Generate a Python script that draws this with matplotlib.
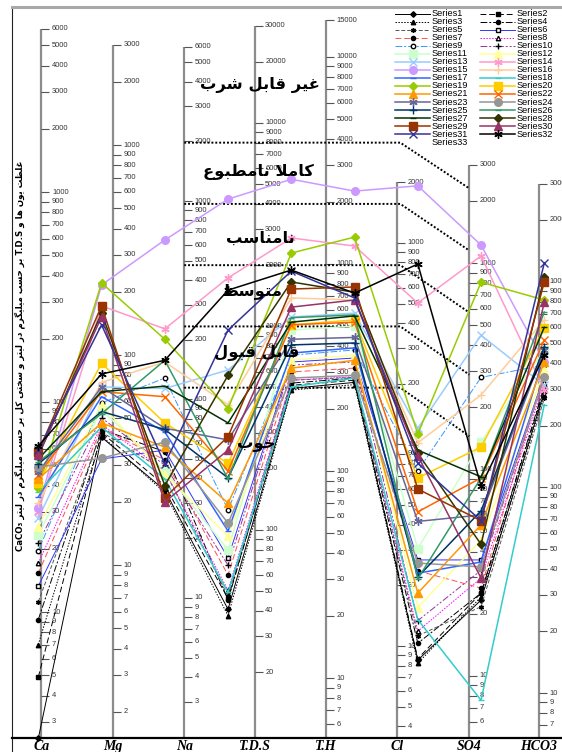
import numpy as np
import matplotlib
matplotlib.use("Agg")
import matplotlib.pyplot as plt
from matplotlib.lines import Line2D

W, H = 562, 752

# ---- data: one value per plotted point, read against the Ca scale ----
points = ["Ca", "Mg", "Na", "K", "T.D.S", "T.H", "Cl", "SO4", "HCO3"]

series1 = [2.5, 68, 38, 10.3, 116, 124, 5.9, 11.4, 112]
series2 = [4.9, 71.5, 40, 11.6, 120, 127, 6.0, 12.3, 116]
series3 = [7.0, 69, 37, 9.6, 114, 121, 5.7, 11.8, 108]
series4 = [9.2, 74, 58, 11.4, 123, 130, 7.1, 12.3, 119]
series5 = [11.2, 72, 47, 11.9, 127, 131, 7.7, 10.6, 104]
series6 = [13.3, 53.5, 59, 18.1, 155, 162, 17.7, 17.7, 134]
series7 = [15.3, 75, 53, 15, 139, 145, 15.7, 13, 139]
series8 = [17.1, 78, 47, 12.7, 127, 132, 8.1, 14.5, 124]
series9 = [19.6, 99, 130, 30.6, 167, 177, 47, 131, 150]
series10 = [21.3, 84, 50, 16.7, 150, 155, 9.1, 15.8, 130]
series11 = [23.3, 92, 47, 19.7, 220, 230, 20, 64.5, 177]
series12 = [25.4, 97, 45, 23, 158, 167, 10.5, 22, 142]
series13 = [28, 118, 116, 142, 254, 265, 75, 208, 120]
series14 = [30, 287, 223, 390, 604, 553, 296, 496, 114]
series15 = [31.3, 361, 591, 925, 1150, 1010, 1070, 559, 155]
series16 = [33, 124, 155, 97, 313, 306, 64, 108, 246]
series17 = [35.3, 106, 72, 24.3, 171, 181, 15.3, 17.3, 167]
series18 = [37.3, 76, 43, 12.4, 118, 130, 9.2, 3.8, 97]
series19 = [39, 369, 199, 93, 512, 610, 70.5, 372, 306]
series20 = [41, 153, 79.5, 51, 233, 246, 43.5, 61, 225]
series21 = [43, 79.5, 61, 33, 145, 158, 12.3, 26, 155]
series22 = [45, 112, 106, 47, 233, 240, 30, 43.5, 197]
series23 = [46.4, 118, 75, 66, 199, 203, 27, 29, 177]
series24 = [49, 54, 64.5, 26.5, 130, 134, 17.1, 16.4, 132]
series25 = [50.7, 90, 74, 43.5, 187, 191, 14.7, 30.3, 183]
series26 = [51.8, 88, 158, 43, 252, 260, 14.4, 43.5, 268]
series27 = [53.5, 112, 119, 79.5, 240, 257, 59, 44, 227]
series28 = [55.3, 265, 40, 134, 373, 333, 57, 21, 394]
series29 = [57.8, 287, 35, 68.5, 345, 353, 38.5, 27.2, 373]
series30 = [56, 254, 33.4, 59, 283, 306, 55.5, 14.5, 299]
series31 = [59, 233, 50.7, 220, 420, 313, 51, 27.2, 459]
series32 = [61.7, 136, 158, 341, 425, 330, 454, 39.8, 167]
series33 = []

all_series = [series1, series2, series3, series4, series5, series6, series7, series8,
              series9, series10, series11, series12, series13, series14, series15, series16,
              series17, series18, series19, series20, series21, series22, series23, series24,
              series25, series26, series27, series28, series29, series30, series31, series32,
              series33]
series_names = [f"Series{i}" for i in range(1, 34)]

# Schoeller template axes (mg/l)
axis_names = ["Ca", "Mg", "Na", "T.D.S", "T.H", "Cl", "SO4", "HCO3"]
axis_ranges = [(3, 6000), (2, 3000), (3, 6000), (20, 30000), (6, 10000), (4, 2000), (6, 3000), (7, 3000)]
axis_extra = {"T.H": [15000]}
tds_limits = [500, 1000, 2000, 4000, 8000]
so4_limits = [145, 288, 576, 1150, 2300]
class_names = ["خوب", "قابل قبول", "متوسط", "نامناسب", "کاملا نامطبوع", "غیر قابل شرب"]
ylabel_words = ["غلظت", "یون", "ها", "و", "T.D.S", "بر", "حسب", "میلیگرم", "در", "لیتر",
                "و", "سختی", "کل", "بر", "حسب", "میلیگرم", "در", "لیتر", "CaCO₃"]

# ---- styles ----
colors = ["black", "black", "black", "black", "#555555", "#3333ff", "#ff5050", "#ff00ff",
          "#3399ff", "#993399", "#ccffcc", "#ffff99", "#99ccff", "#ff99cc", "#cc99ff", "#ffcc99",
          "#3366ff", "#33cccc", "#99cc00", "#ffcc00", "#ff9900", "#ff6600", "#666699", "#969696",
          "#003366", "#339966", "#003300", "#333300", "#993300", "#993366", "#333399", "black"]
dash = (0, (6, 3))
dot = (0, (1.5, 1.5))
dashdot = (0, (7, 2, 2, 2))
linestyles = ["-", dash, dot, dashdot, (0, (4, 2)), "-", dash, dot, dashdot, (0, (7, 2, 2, 2, 2, 2))] + ["-"] * 22
linewidths = [0.7] * 10 + [1.1] * 22
star = (6, 2, 0)
markers = ["D", "s", "^", "o", star, "s", "o", "^", "o", "+",
           "s", "^", "x", star, "o", "+", "_", "_", "D", "s", "^", "x", star, "o",
           "+", "_", "_", "D", "s", "^", "x", star]
msizes = [2.8, 3, 3.2, 3, 3.5, 3.2, 3, 3.2, 3.2, 4] + [5.5, 5.5, 5.5, 6, 5.5, 6, 5, 5, 4.5, 5.5,
                                                      5.5, 5.5, 6, 5.5, 6, 5, 5, 4.5, 5.5, 5.5, 5.5, 6]
hollow = {5, 7, 8}

# layout (pixels of the 562x752 picture)
PT_X0, PT_DX = 38.3, 63.25
AXIS_PX = [41.5, 113.3, 184.2, 254.7, 326.0, 397.3, 469.3, 539.0]
AXIS_SCALE = [(100, 1.0), (167.4, 1.0), (102.8, 0.945), (24.6, 0.969),
              (46.9, 0.986), (62.8, 0.960), (47.7, 0.983), (39.2, 0.979)]
Y_BOT, Y_TOP = 2.512, 7603


def cx(px):
    return (px - PT_X0) / PT_DX


def to_ref(k, v):
    h100, s = AXIS_SCALE[k]
    return h100 * (np.asarray(v, dtype=float) / 100.0) ** s


def decade_ticks(lo, hi):
    return [m * 10 ** e for e in range(6) for m in range(1, 10) if lo <= m * 10 ** e <= hi]


FORMS = {
    "\u0627": ("\uFE8D", "\uFE8E", None, None),
    "\u0628": ("\uFE8F", "\uFE90", "\uFE91", "\uFE92"),
    "\u062A": ("\uFE95", "\uFE96", "\uFE97", "\uFE98"),
    "\u062D": ("\uFEA1", "\uFEA2", "\uFEA3", "\uFEA4"),
    "\u062E": ("\uFEA5", "\uFEA6", "\uFEA7", "\uFEA8"),
    "\u062F": ("\uFEA9", "\uFEAA", None, None),
    "\u0631": ("\uFEAD", "\uFEAE", None, None),
    "\u0633": ("\uFEB1", "\uFEB2", "\uFEB3", "\uFEB4"),
    "\u0634": ("\uFEB5", "\uFEB6", "\uFEB7", "\uFEB8"),
    "\u0637": ("\uFEC1", "\uFEC2", "\uFEC3", "\uFEC4"),
    "\u0638": ("\uFEC5", "\uFEC6", "\uFEC7", "\uFEC8"),
    "\u0639": ("\uFEC9", "\uFECA", "\uFECB", "\uFECC"),
    "\u063A": ("\uFECD", "\uFECE", "\uFECF", "\uFED0"),
    "\u0642": ("\uFED5", "\uFED6", "\uFED7", "\uFED8"),
    "\u0643": ("\uFED9", "\uFEDA", "\uFEDB", "\uFEDC"),
    "\u0644": ("\uFEDD", "\uFEDE", "\uFEDF", "\uFEE0"),
    "\u0645": ("\uFEE1", "\uFEE2", "\uFEE3", "\uFEE4"),
    "\u0646": ("\uFEE5", "\uFEE6", "\uFEE7", "\uFEE8"),
    "\u0647": ("\uFEE9", "\uFEEA", "\uFEEB", "\uFEEC"),
    "\u0648": ("\uFEED", "\uFEEE", None, None),
    "\u064A": ("\uFEF1", "\uFEF2", "\uFEF3", "\uFEF4"),
    "\u06A9": ("\uFB8E", "\uFB8F", "\uFB90", "\uFB91"),
    "\u06AF": ("\uFB92", "\uFB93", "\uFB94", "\uFB95"),
    "\u06CC": ("\uFBFC", "\uFBFD", "\uFBFE", "\uFBFF"),
}


def shape_word(word):
    # matplotlib has no Arabic shaping: pick presentation forms, then reverse
    out = []
    i = 0
    while i < len(word):
        c = word[i]
        if c not in FORMS:
            out.append(c)
            i += 1
            continue
        prev = word[i - 1] if i > 0 else None
        joins_prev = prev in FORMS and FORMS[prev][2] is not None
        if c == "\u0644" and i + 1 < len(word) and word[i + 1] == "\u0627":
            out.append("\uFEFC" if joins_prev else "\uFEFB")
            i += 2
            continue
        nxt = word[i + 1] if i + 1 < len(word) else None
        joins_next = FORMS[c][2] is not None and nxt in FORMS
        iso, fin, ini, med = FORMS[c]
        out.append(med if joins_prev and joins_next else fin if joins_prev else ini if joins_next else iso)
        i += 1
    return "".join(reversed(out))


def visual(words):
    return " ".join(w if w.isascii() or "₃" in w else shape_word(w) for w in reversed(words))


fig = plt.figure(figsize=(W / 100, H / 100), dpi=100)
fig.patch.set_facecolor("white")
ax = fig.add_axes([12 / W, 1 - 738 / H, (W - 12) / W, (738 - 7) / H])
ax.set_yscale("log")
ax.set_xlim(cx(12), cx(W))
ax.set_ylim(Y_BOT, Y_TOP)
ax.tick_params(which="both", left=False, bottom=False, labelleft=False, labelbottom=False)
for side in ax.spines.values():
    side.set_visible(False)

# frame
fig.add_artist(Line2D([12 / W, 12 / W], [0, 1 - 7 / H], color="#222222", lw=0.8))
fig.add_artist(Line2D([12 / W, 1], [1 - 7 / H, 1 - 7 / H], color="#a8a8a8", lw=2.2))
fig.add_artist(Line2D([12 / W, 1], [1 - 738 / H, 1 - 738 / H], color="black", lw=1.6))

# template axes
tick_len, lab_off = 8 / PT_DX, 10.5 / PT_DX
for k, name in enumerate(axis_names):
    xk = cx(AXIS_PX[k])
    ticks = decade_ticks(*axis_ranges[k]) + axis_extra.get(name, [])
    vals = to_ref(k, ticks)
    ax.plot([xk, xk], [Y_BOT, vals.max()], color="#8c8c8c", lw=1.6, zorder=1,
            solid_capstyle="butt")
    ax.hlines(vals, xk, xk + tick_len, color="#555555", lw=0.8, zorder=1)
    for t, v in zip(ticks, vals):
        ax.text(xk + lab_off, v, str(t), fontsize=5.4, family="Liberation Sans",
                color="#333333", va="center", ha="left", zorder=1)
    fig.text(AXIS_PX[k] / W, 1 - 740 / H, name, fontsize=10, family="Liberation Serif",
             weight="bold", style="italic", ha="center", va="top")

# class limits (dotted)
for tds, so4 in zip(tds_limits, so4_limits):
    y1 = float(to_ref(3, tds))
    y2 = float(to_ref(6, so4))
    ax.plot([cx(AXIS_PX[2]), cx(AXIS_PX[5] + 3), cx(AXIS_PX[6])], [y1, y1, y2],
            color="black", lw=1.4, ls=(0, (1, 1)), zorder=2)

# series
for i, vals in enumerate(all_series):
    if not vals:
        continue
    mfc = "white" if i in hollow else ("black" if i < 10 else colors[i])
    mec = "black" if i < 10 else colors[i]
    ax.plot(range(len(points)), vals, color=colors[i], ls=linestyles[i], lw=linewidths[i],
            marker=markers[i], ms=msizes[i], mfc=mfc, mec=mec, mew=1.0,
            clip_on=False, zorder=3 + i * 0.01)

# class names
class_pos = [(256, 445), (257, 352), (252, 291), (260, 238), (258, 172), (260, 85)]
for txt, (px, py) in zip(class_names, class_pos):
    fig.text(px / W, 1 - py / H, visual(txt.split()), fontsize=11.8, weight="bold",
             family=["DejaVu Sans"], ha="center", va="center", zorder=10)

# rotated y label
fig.text(20 / W, 1 - 356 / H, visual(ylabel_words), rotation=90, fontsize=6.2,
         weight="bold", family=["DejaVu Sans"], ha="center", va="center")

# legend, drawn by hand to keep Excel's tight rows
for i, lab in enumerate(series_names):
    r, c = divmod(i, 2)
    y = 1 - (13.5 + 8.05 * r) / H
    x0 = 395 if c == 0 else 480
    if i < 32:
        mfc = "white" if i in hollow else ("black" if i < 10 else colors[i])
        mec = "black" if i < 10 else colors[i]
        fig.add_artist(Line2D([x0 / W, (x0 + 35) / W], [y, y], color=colors[i],
                              ls=linestyles[i], lw=linewidths[i]))
        fig.add_artist(Line2D([(x0 + 17.5) / W], [y], marker=markers[i], ms=msizes[i],
                              mfc=mfc, mec=mec, mew=1.0, ls="none"))
    fig.text((x0 + 37) / W, y, lab, fontsize=6.6, family="Liberation Sans",
             va="center", ha="left")

fig.savefig("out.png", dpi=100)
